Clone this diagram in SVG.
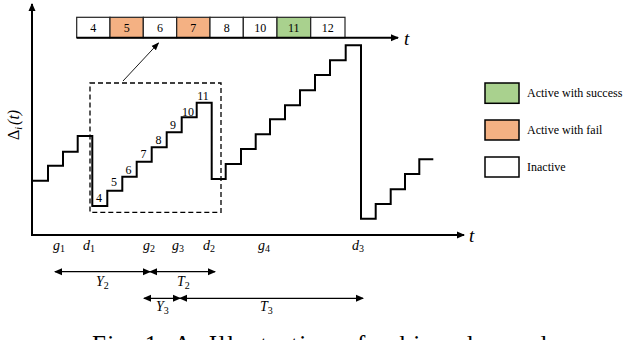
<svg xmlns="http://www.w3.org/2000/svg" width="640" height="340" viewBox="0 0 640 340">
<defs>
<marker id="ah" markerWidth="8" markerHeight="8" refX="7" refY="4" orient="auto-start-reverse" markerUnits="userSpaceOnUse">
<path d="M0,0.5 L8,4 L0,7.5 z" fill="#000"/>
</marker>
<marker id="ahs" markerWidth="8" markerHeight="8" refX="7" refY="4" orient="auto" markerUnits="userSpaceOnUse">
<path d="M0,1 L8,4 L0,7 z" fill="#000"/>
</marker>
</defs>
<style>
.cell{stroke:#222;stroke-width:1.2}
.num{font-family:"Liberation Serif",serif;font-size:12px;text-anchor:middle;fill:#000}
.lab{font-family:"Liberation Serif",serif;font-size:12px;fill:#000}
.it{font-family:"Liberation Serif",serif;font-style:italic;font-size:14px;fill:#000}
.sub{font-size:10px}
.axis{stroke:#000;stroke-width:2;fill:none}
.step{stroke:#000;stroke-width:2;fill:none}
.thin{stroke:#000;stroke-width:1.2;fill:none}
</style>
<rect width="640" height="340" fill="#fff"/>

<g id="top-bar">
<rect class="cell" x="76.7" y="17.3" width="33.3" height="20.4" fill="#fff"/>
<rect class="cell" x="110" y="17.3" width="33.3" height="20.4" fill="#F4B183"/>
<rect class="cell" x="143.3" y="17.3" width="33.4" height="20.4" fill="#fff"/>
<rect class="cell" x="176.7" y="17.3" width="33.3" height="20.4" fill="#F4B183"/>
<rect class="cell" x="210" y="17.3" width="33.3" height="20.4" fill="#fff"/>
<rect class="cell" x="243.3" y="17.3" width="33.7" height="20.4" fill="#fff"/>
<rect class="cell" x="277" y="17.3" width="33.7" height="20.4" fill="#A9D18E"/>
<rect class="cell" x="310.7" y="17.3" width="34.3" height="20.4" fill="#fff"/>
<text class="num" x="93.3" y="32">4</text>
<text class="num" x="126.7" y="32">5</text>
<text class="num" x="160" y="32">6</text>
<text class="num" x="193.3" y="32">7</text>
<text class="num" x="226.7" y="32">8</text>
<text class="num" x="260.2" y="32">10</text>
<text class="num" x="293.8" y="32">11</text>
<text class="num" x="327.8" y="32">12</text>
</g>

<g id="connectors">
<line class="axis" x1="76.7" y1="37.7" x2="398" y2="37.7" marker-end="url(#ah)"/>
<line class="axis" x1="32" y1="236" x2="32" y2="4" marker-end="url(#ah)"/>
<line class="axis" x1="31" y1="235" x2="464" y2="235" marker-end="url(#ah)"/>
<line x1="123" y1="81" x2="158.5" y2="43" stroke="#000" stroke-width="0.9" marker-end="url(#ahs)"/>
<line class="thin" x1="55" y1="271.7" x2="150" y2="271.7" marker-start="url(#ah)" marker-end="url(#ah)"/>
<line class="thin" x1="150" y1="271.7" x2="215" y2="271.7" marker-start="url(#ah)" marker-end="url(#ah)"/>
<line class="thin" x1="144" y1="298.3" x2="180" y2="298.3" marker-start="url(#ah)" marker-end="url(#ah)"/>
<line class="thin" x1="180" y1="298.3" x2="363" y2="298.3" marker-start="url(#ah)" marker-end="url(#ah)"/>
</g>

<g id="axis-labels">
<text class="it" x="404" y="45" style="font-size:19px">t</text>
<text class="it" x="469" y="242" style="font-size:19px">t</text>
<text class="it" transform="translate(19,140) rotate(-90)" style="font-size:16px"><tspan font-style="normal">Δ</tspan><tspan class="sub" dy="3">i</tspan><tspan dy="-3" dx="2">(t)</tspan></text>
</g>

<g id="step-curve">
<path class="step" d="M32,180.7 H48 V165.7 H63 V151.7 H77.7 V136 H92.3 V206 H107.3 V190.7 H122.3 V176.7 H136.7 V161.7 H151.7 V147.3 H166.7 V132.3 H181.7 V117.3 H196.7 V102.7 H211.7 V179 H225.7 V164 H241 V149 H255.7 V134.3 H270 V119.3 H285 V105.3 H300 V90.3 H315 V75 H330 V60.3 H345.7 V45.3 H361 V218.7 H375.7 V204 H390.7 V189.3 H405 V174 H419.3 V159.3 H433.3"/>
<text class="num" x="99" y="202">4</text>
<text class="num" x="114" y="186">5</text>
<text class="num" x="128.5" y="174">6</text>
<text class="num" x="143.5" y="158">7</text>
<text class="num" x="158.5" y="144">8</text>
<text class="num" x="173" y="129">9</text>
<text class="num" x="188" y="116">10</text>
<text class="num" x="203" y="100">11</text>
</g>

<g id="zoom-box">
<rect x="90" y="83" width="131" height="129.3" fill="none" stroke="#000" stroke-width="1.3" stroke-dasharray="5,3"/>
</g>

<g id="legend">
<rect x="485" y="83" width="34" height="20.3" fill="#A9D18E" stroke="#000" stroke-width="1.5"/>
<text class="lab" x="527" y="97">Active with success</text>
<rect x="485" y="120" width="34" height="20" fill="#F4B183" stroke="#000" stroke-width="1.5"/>
<text class="lab" x="527" y="134">Active with fail</text>
<rect x="485" y="157" width="34" height="20" fill="#fff" stroke="#000" stroke-width="1.5"/>
<text class="lab" x="527" y="171">Inactive</text>
</g>

<g id="time-labels">
<text class="it" x="53" y="250">g<tspan class="sub" dy="2" font-style="normal">1</tspan></text>
<text class="it" x="83" y="250">d<tspan class="sub" dy="2" font-style="normal">1</tspan></text>
<text class="it" x="143" y="250">g<tspan class="sub" dy="2" font-style="normal">2</tspan></text>
<text class="it" x="172" y="250">g<tspan class="sub" dy="2" font-style="normal">3</tspan></text>
<text class="it" x="203" y="250">d<tspan class="sub" dy="2" font-style="normal">2</tspan></text>
<text class="it" x="258" y="250">g<tspan class="sub" dy="2" font-style="normal">4</tspan></text>
<text class="it" x="352" y="250">d<tspan class="sub" dy="2" font-style="normal">3</tspan></text>
<text class="it" x="96" y="286">Y<tspan class="sub" dy="3" font-style="normal">2</tspan></text>
<text class="it" x="177" y="286">T<tspan class="sub" dy="3" font-style="normal">2</tspan></text>
<text class="it" x="156" y="311">Y<tspan class="sub" dy="3" font-style="normal">3</tspan></text>
<text class="it" x="260" y="311">T<tspan class="sub" dy="3" font-style="normal">3</tspan></text>
</g>

<text x="92" y="353" font-family="Liberation Serif, serif" font-size="25" fill="#000" textLength="468" lengthAdjust="spacing">Fig. 1: A: Illustration of achieved sample</text>
</svg>
